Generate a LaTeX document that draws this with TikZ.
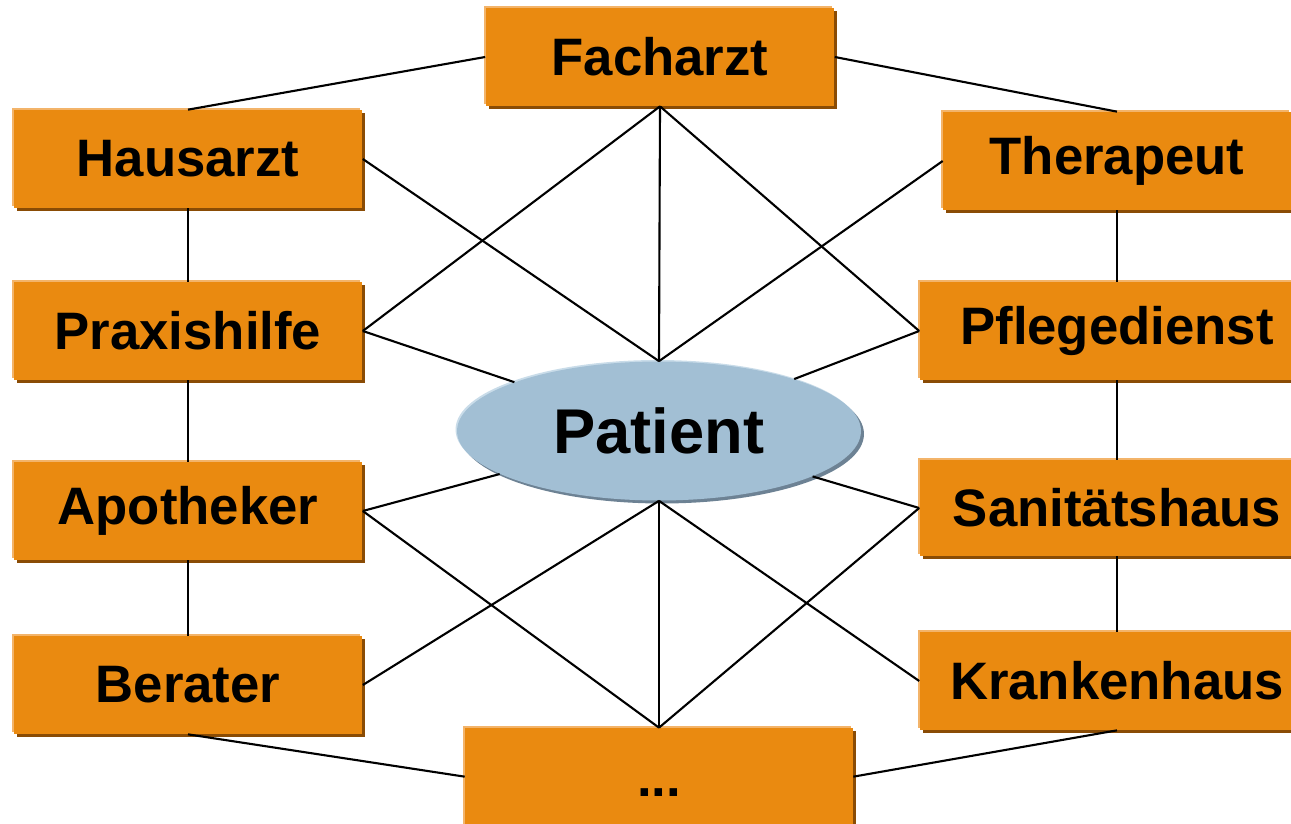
\documentclass[tikz,border=0pt]{standalone}
\usepackage{fontspec}
\setmainfont{Liberation Sans}
\usetikzlibrary{shadows,shapes.geometric,calc}
\definecolor{boxorange}{HTML}{EA8A10}
\definecolor{boxlight}{HTML}{F3B46A}
\definecolor{boxdark}{HTML}{8A4C05}
\definecolor{pblue}{HTML}{A2BFD4}
\definecolor{pdark}{HTML}{6D8294}
\definecolor{plight}{HTML}{C9DCE9}
\tikzset{
  role/.style={rectangle, fill=boxorange, inner sep=0pt,
    minimum width=6.98cm, minimum height=1.96cm,
    font=\fontsize{30}{36}\selectfont\bfseries,
    general shadow={shadow xshift=0.06cm, shadow yshift=-0.06cm, fill=boxdark},
    general shadow={shadow xshift=-0.04cm, shadow yshift=0.04cm, fill=boxlight}},
  link/.style={line width=1.2pt, black},
  pat/.style={ellipse, fill=pblue, minimum width=8.08cm, minimum height=2.78cm, inner sep=0pt,
    font=\fontsize{36}{42}\selectfont\bfseries,
    general shadow={shadow xshift=0.06cm, shadow yshift=-0.06cm, fill=pdark},
    general shadow={shadow xshift=-0.03cm, shadow yshift=0.03cm, fill=plight}}
}
\begin{document}
\begin{tikzpicture}[x=0.02cm, y=-0.02cm]
\useasboundingbox (0,0) rectangle (1291,824);
\node[role] (fach) at (660,57) {Facharzt};
\node[role] (haus) at (188,159) {Hausarzt};
\node[role, minimum width=6.96cm] (ther) at (1117,161) {Therapeut};
\node[role] (prax) at (188,331) {Praxishilfe};
\node[role, minimum width=7.9cm] (pfl) at (1117,331) {Pflegedienst};
\node[role] (apo) at (188,511) {Apotheker};
\node[role, minimum width=7.9cm, minimum height=1.92cm] (sani) at (1117,508) {Sanitätshaus};
\node[role] (ber) at (188,685) {Berater};
\node[role, minimum width=7.9cm] (kh) at (1117,681) {Krankenhaus};
\node[role, minimum width=7.76cm, minimum height=2.6cm] (etc) at (659,793) {...};
\node[pat] (pat) at (659,431) {Patient};
% outer ring
\draw[link] (fach.west) -- (haus.north);
\draw[link] (fach.east) -- (ther.north);
\draw[link] (haus.south) -- (prax.north);
\draw[link] (prax.south) -- (apo.north);
\draw[link] (apo.south) -- (ber.north);
\draw[link] (ther.south) -- (pfl.north);
\draw[link] (pfl.south) -- (sani.north);
\draw[link] (sani.south) -- (kh.north);
\draw[link] (ber.south) -- ($(etc.north west)+(0,49)$);
\draw[link] (kh.south) -- ($(etc.north east)+(0,49)$);
% upper star
\draw[link] (fach.south) -- (prax.east);
\draw[link] (fach.south) -- (pat.north);
\draw[link] (fach.south) -- (pfl.west);
\draw[link] (haus.east) -- (pat.north);
\draw[link] (ther.west) -- (pat.north);
\draw[link] (prax.east) -- (pat);
\draw[link] (pfl.west) -- (pat);
% lower star
\draw[link] (apo.east) -- (pat);
\draw[link] (sani.west) -- (pat);
\draw[link] (etc.north) -- (apo.east);
\draw[link] (etc.north) -- (pat.south);
\draw[link] (etc.north) -- (sani.west);
\draw[link] (pat.south) -- (ber.east);
\draw[link] (pat.south) -- (kh.west);
\end{tikzpicture}
\end{document}
